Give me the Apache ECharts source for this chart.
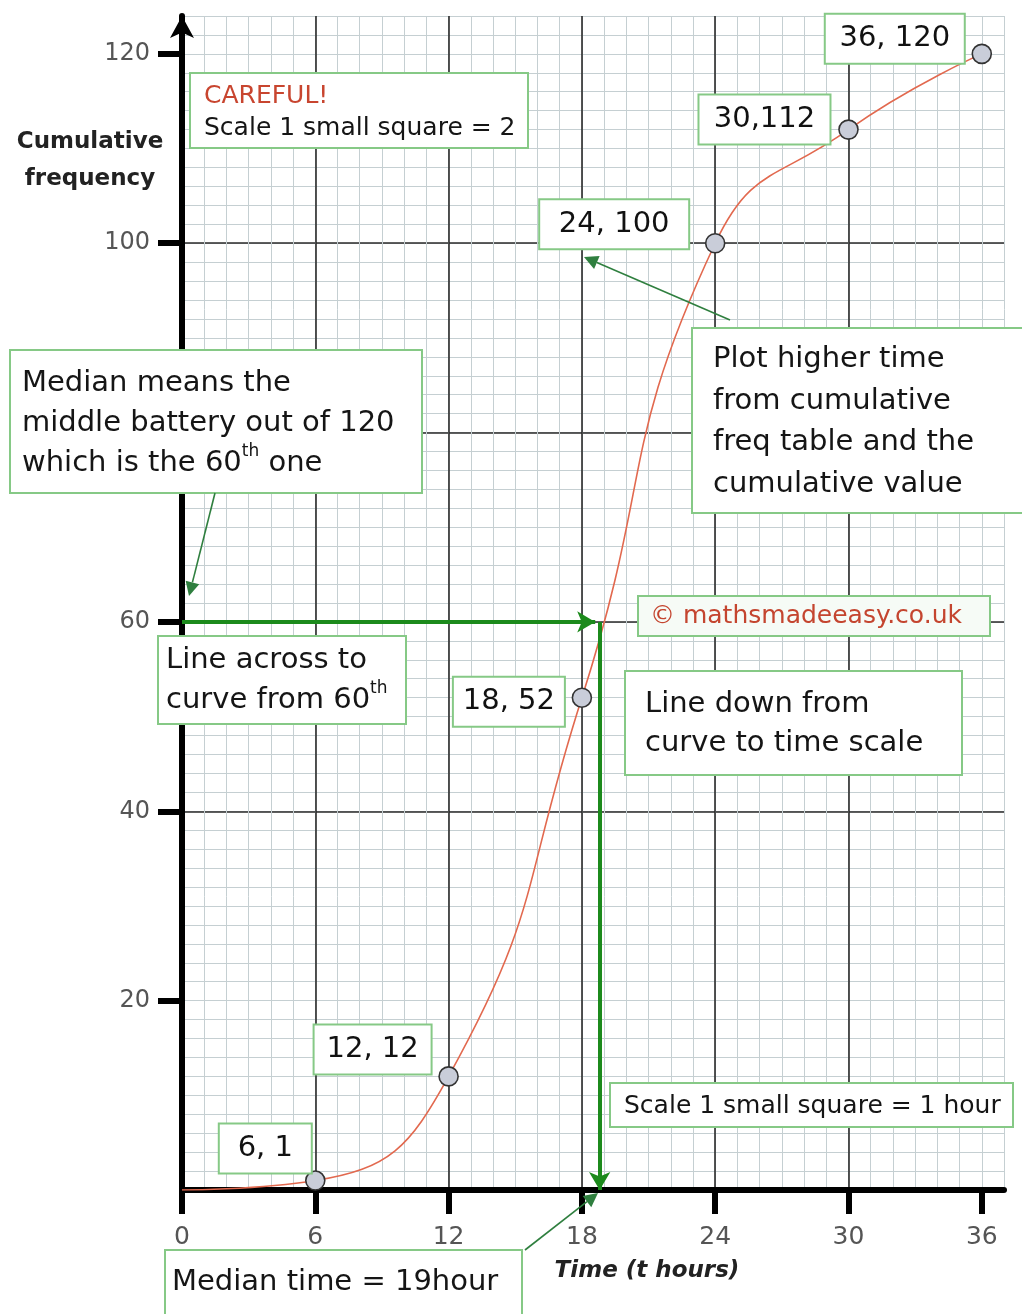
<!DOCTYPE html>
<html><head><meta charset="utf-8">
<script src="https://cdn.jsdelivr.net/npm/echarts@6/dist/echarts.min.js"></script>
<style>html,body{margin:0;padding:0;background:#fff}#c{width:1022px;height:1314px}</style>
</head><body><div id="c"></div>
<script>
// ---- data ----
const timeHours = [0, 6, 12, 18, 24, 30, 36];
const cumFreq = [0, 1, 12, 52, 100, 112, 120];
const plottedTimes = [6, 12, 18, 24, 30, 36];
const plottedFreq = [1, 12, 52, 100, 112, 120];
const pointLabels = ['6, 1', '12, 12', '18, 52', '24, 100', '30,112', '36, 120'];
const xTickValues = [0, 6, 12, 18, 24, 30, 36];
const yTickValues = [20, 40, 60, 80, 100, 120];
const medianPosition = 60;
const acrossLineEnd = 18.6;
const medianReadTime = 18.8;

// ---- layout / style (not data) ----
const labelLayout = [
  {dx: -50, dy: -32, w: 91},
  {dx: -76, dy: -27, w: 116},
  {dx: -73, dy: 4, w: 110},
  {dx: -101, dy: -19, w: 148},
  {dx: -84, dy: -10, w: 130},
  {dx: -87, dy: -15, w: 138}
];
const FONT = 'DejaVu Sans';
const GREEN_BORDER = '#86c986';
const MINOR = '#c5cfd2';
const MAJOR = '#2a2a2a';

const chart = echarts.init(document.getElementById('c'), null, {renderer: 'canvas'});

function box(x, y, w, h, textOpt, fill) {
  return [
    {type: 'rect', z: 100, shape: {x: x, y: y, width: w, height: h},
     style: {fill: fill || '#fff', stroke: GREEN_BORDER, lineWidth: 2}},
    {type: 'text', z: 101, style: Object.assign({
      fontFamily: FONT, fill: '#151515', verticalAlign: 'top', align: 'left'
    }, textOpt)}
  ];
}
function pointer(x1, y1, x2, y2, size, color, width) {
  const dx = x2 - x1, dy = y2 - y1, L = Math.sqrt(dx*dx + dy*dy);
  const ux = dx / L, uy = dy / L;
  const bx = x2 - ux * size, by = y2 - uy * size;
  const px = -uy * size * 0.5, py = ux * size * 0.5;
  return [
    {type: 'line', z: 102, shape: {x1: x1, y1: y1, x2: bx, y2: by}, style: {stroke: color, lineWidth: width}},
    {type: 'polygon', z: 102, shape: {points: [[x2, y2], [bx + px, by + py], [bx - px, by - py]]}, style: {fill: color}}
  ];
}
const supRich = {sup: {fontSize: 17, fontFamily: FONT, verticalAlign: 'top', lineHeight: 22, padding: [0, 0, 12, 0]}};

const graphics = [].concat(
  [{type: 'text', z: 100, style: {x: 90, y: 124, text: 'Cumulative\nfrequency', align: 'center', verticalAlign: 'top',
    fontFamily: FONT, fontWeight: 'bold', fontSize: 23, lineHeight: 37, fill: '#222'}}],
  box(190, 73, 338, 75, {x: 204, y: 80, fontSize: 25, lineHeight: 32,
    text: '{r|CAREFUL!}\nScale 1 small square = 2', rich: {r: {fill: '#c8452f', fontSize: 25, fontFamily: FONT}}}),
  box(10, 350, 412, 143, {x: 22, y: 363, fontSize: 29, lineHeight: 40,
    text: 'Median means the\nmiddle battery out of 120\nwhich is the 60{sup|th} one', rich: supRich}),
  box(692, 328, 340, 185, {x: 713, y: 339, fontSize: 29, lineHeight: 41.5,
    text: 'Plot higher time\nfrom cumulative\nfreq table and the\ncumulative value'}),
  box(638, 596, 352, 40, {x: 650, y: 601, fontSize: 25, lineHeight: 30, fill: '#c4452f',
    text: '\u00a9 mathsmadeeasy.co.uk'}, '#f6fbf6'),
  box(158, 636, 248, 88, {x: 166, y: 640, fontSize: 29, lineHeight: 40,
    text: 'Line across to\ncurve from 60{sup|th}', rich: supRich}),
  box(625, 671, 337, 104, {x: 645, y: 685, fontSize: 29, lineHeight: 39,
    text: 'Line down from\ncurve to time scale'}),
  box(610, 1083, 403, 44, {x: 624, y: 1090, fontSize: 25, lineHeight: 32,
    text: 'Scale 1 small square = 1 hour'}),
  box(165, 1250, 357, 70, {x: 172, y: 1264, fontSize: 29, lineHeight: 36,
    text: 'Median time = 19hour'}),
  pointer(215, 493, 189, 596, 14, '#2f7f3f', 1.6),
  pointer(730, 320, 584, 257, 14, '#2f7f3f', 1.6),
  pointer(525, 1250, 598, 1193, 14, '#2f7f3f', 1.6)
);

const option = {
  animation: false,
  backgroundColor: '#fff',
  grid: {left: 182, right: 18, top: 16, bottom: 124, containLabel: false, outerBoundsMode: 'none'},
  xAxis: [
    {type: 'value', position: 'top', min: 0, max: 37, interval: 1,
     axisLine: {show: false}, axisTick: {show: false}, axisLabel: {show: false},
     splitLine: {show: true, lineStyle: {color: MINOR, width: 1}}},
    {type: 'value', position: 'bottom', min: 0, max: 37, interval: 6,
     axisLine: {show: true, onZero: false, lineStyle: {color: '#000', width: 6}},
     axisTick: {show: true, customValues: xTickValues, length: 24, lineStyle: {color: '#000', width: 6}},
     axisLabel: {show: true, customValues: xTickValues, margin: 35, fontSize: 25, fontFamily: FONT, color: '#555'},
     splitLine: {show: true, showMinLine: false, showMaxLine: false, lineStyle: {color: MAJOR, width: 1.6}},
     name: 'Time (t hours)', nameLocation: 'middle', nameGap: 70,
     nameTextStyle: {fontFamily: FONT, fontWeight: 'bold', fontStyle: 'italic', fontSize: 23, color: '#222', padding: [0, 0, 0, 108]}}
  ],
  yAxis: [
    {type: 'value', position: 'right', min: 0, max: 124, interval: 2,
     axisLine: {show: false}, axisTick: {show: false}, axisLabel: {show: false},
     splitLine: {show: true, lineStyle: {color: MINOR, width: 1}}},
    {type: 'value', position: 'left', min: 0, max: 124, interval: 20,
     axisLine: {show: true, onZero: false, symbol: ['none', 'arrow'], symbolSize: [18, 22], lineStyle: {color: '#000', width: 6}},
     axisTick: {show: true, customValues: yTickValues, length: 24, lineStyle: {color: '#000', width: 6}},
     axisLabel: {show: true, customValues: yTickValues, margin: 32, fontSize: 24, fontFamily: FONT, color: '#555'},
     splitLine: {show: true, showMinLine: false, showMaxLine: false, lineStyle: {color: MAJOR, width: 1.6}}}
  ],
  series: [
    {type: 'line', name: 'Cumulative frequency curve', xAxisIndex: 1, yAxisIndex: 1,
     data: timeHours.map((t, i) => [t, cumFreq[i]]),
     smooth: 0.5, symbol: 'none', z: 3,
     lineStyle: {color: '#e2694f', width: 1.6},
     markLine: {silent: true, symbol: ['none', 'arrow'], symbolSize: [16, 18], z: 4,
       lineStyle: {color: '#1c8a1c', width: 4, type: 'solid'}, label: {show: false},
       data: [
         [{coord: [0, medianPosition]}, {coord: [acrossLineEnd, medianPosition]}],
         [{coord: [medianReadTime, medianPosition]}, {coord: [medianReadTime, 0]}]
       ]}},
    {type: 'scatter', name: 'Plotted points', xAxisIndex: 1, yAxisIndex: 1, z: 5,
     symbol: 'circle', symbolSize: 19,
     itemStyle: {color: '#c9cdd9', borderColor: '#333', borderWidth: 1.6, opacity: 1},
     data: plottedTimes.map((t, i) => ({
       value: [t, plottedFreq[i]],
       label: {offset: [labelLayout[i].dx, labelLayout[i].dy], width: labelLayout[i].w}
     })),
     label: {show: true, position: 'inside', formatter: p => pointLabels[p.dataIndex],
       fontSize: 29, fontFamily: FONT, color: '#111', align: 'center', opacity: 1,
       textBorderWidth: 0, textBorderColor: 'transparent', textShadowBlur: 0,
       backgroundColor: '#fff', borderColor: GREEN_BORDER, borderWidth: 2, padding: [7, 0, 7, 0], lineHeight: 34}}
  ],
  graphic: {elements: graphics}
};
chart.setOption(option);
</script></body></html>
